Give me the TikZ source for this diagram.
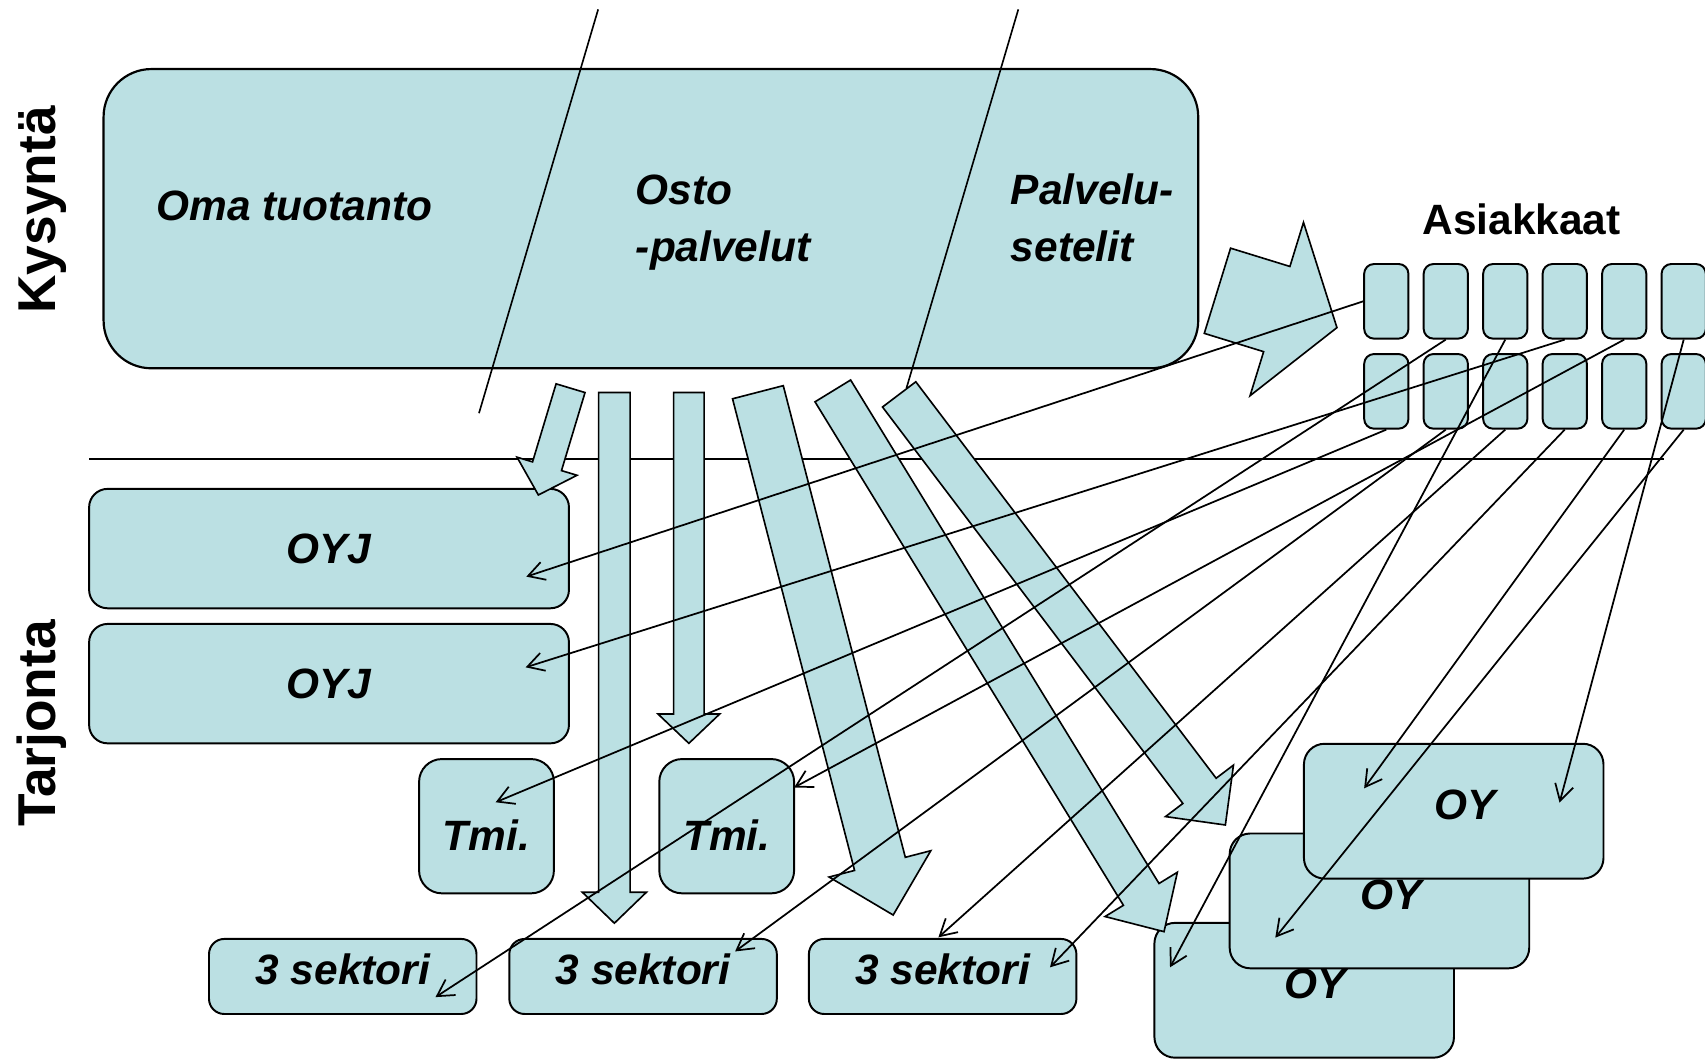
\documentclass[tikz,border=0pt]{standalone}
\usepackage{fontspec}
\setmainfont{Liberation Sans}
\usetikzlibrary{calc,arrows.meta}

\definecolor{paleblue}{RGB}{187,224,227}
\newcommand{\labfont}{\fontsize{39}{47}\selectfont\bfseries\itshape}
\newcommand{\headfont}{\fontsize{39}{47}\selectfont\bfseries}
\newcommand{\sidefont}{\fontsize{49}{59}\selectfont\bfseries}

% fat arrow: tail, tip, shaft half width, head half width, head length
\newcommand{\fatarrow}[5]{%
  \coordinate (fa-b) at ($(#2)!#5!(#1)$);
  \draw[flow] ($(#1)!#3!90:(#2)$) -- ($(fa-b)!#3!90:(#2)$) -- ($(fa-b)!#4!90:(#2)$)
    -- (#2) -- ($(fa-b)!#4!-90:(#2)$) -- ($(fa-b)!#3!-90:(#2)$) -- ($(#1)!#3!-90:(#2)$) -- cycle;
}

\tikzset{
  firm/.style={draw, fill=paleblue, line width=1.8pt, inner sep=0pt, font=\labfont, text height=28pt},
  bigbox/.style={draw, fill=paleblue, line width=2pt, rounded corners=44pt, inner sep=0pt,
    minimum width=1006.7pt, minimum height=275.2pt},
  oyj/.style={firm, rounded corners=17pt, minimum width=441.3pt, minimum height=109.8pt, text depth=0pt},
  tmi/.style={firm, rounded corners=21pt, minimum width=124pt, minimum height=123.5pt, text height=44pt, text depth=0pt},
  sektori/.style={firm, rounded corners=14pt, minimum width=246pt, minimum height=69pt, text depth=13pt},
  oy/.style={firm, rounded corners=19pt, minimum width=275.5pt, minimum height=124pt, text depth=12pt,
    execute at begin node={\hspace*{21pt}}},
  client/.style={draw, fill=paleblue, line width=1.8pt, rounded corners=9pt, inner sep=0pt,
    minimum width=40.7pt, minimum height=68.6pt},
  flow/.style={draw, fill=paleblue, line width=1.5pt, line join=miter},
  link/.style={->, line width=1.6pt},
  divider/.style={line width=1.5pt},
  intext/.style={font=\labfont, inner sep=0pt, anchor=base west},
  side/.style={font=\sidefont, inner sep=0pt, anchor=base, rotate=90},
}

\begin{document}
\begin{tikzpicture}[x=1pt, y=-1pt, >={Straight Barb[length=15pt,width=17pt]}]
    \useasboundingbox (0,0) rectangle (1568,974);

    % demand
    \node[bigbox] (demand) at (598.6,201.1) {};
    \node[intext] (oma) at (143.7,202.5) {Oma tuotanto};
    \node[intext] (osto) at (584.6,188) {Osto};
    \node[intext] (ostob) at (584.6,240.5) {-palvelut};
    \node[intext] (seteli) at (929.5,188) {Palvelu-};
    \node[intext] (setelib) at (929.5,240.5) {setelit};
    \node[side] (kysynta) at (51,193.1) {Kysyntä};
    \node[side] (tarjonta) at (51,665.3) {Tarjonta};
    \node[font=\headfont, inner sep=0pt, anchor=base] (asiakkaat) at (1399.4,216) {Asiakkaat};

    \draw[divider] (550.1,8.6) -- (440.5,380);
    \draw[divider] (936.5,8.6) -- (833.6,357);
    \draw[divider] (82,422) -- (1530,422);

    % supply
    \node[oyj] (oyj1) at (302.6,504.5) {OYJ};
    \node[oyj] (oyj2) at (302.6,628.7) {OYJ};
    \node[tmi] (tmi1) at (447.4,759.8) {Tmi.};
    \node[tmi] (tmi2) at (668.3,759.8) {Tmi.};
    \node[sektori] (sek1) at (315.2,898) {3 sektori};
    \node[sektori] (sek2) at (591.4,898) {3 sektori};
    \node[sektori] (sek3) at (866.9,898) {3 sektori};
    \node[oy] (oy3) at (1199.4,910.7) {OY};
    \node[oy] (oy2) at (1268.6,828.5) {OY};
    \node[oy] (oy1) at (1336.9,746) {OY};

    % customers
    \node[client] (a1) at (1274.9,277.1) {};
    \node[client] (a2) at (1329.6,277.1) {};
    \node[client] (a3) at (1384.3,277.1) {};
    \node[client] (a4) at (1439.0,277.1) {};
    \node[client] (a5) at (1493.7,277.1) {};
    \node[client] (a6) at (1548.4,277.1) {};
    \node[client] (b1) at (1274.9,359.9) {};
    \node[client] (b2) at (1329.6,359.9) {};
    \node[client] (b3) at (1384.3,359.9) {};
    \node[client] (b4) at (1439.0,359.9) {};
    \node[client] (b5) at (1493.7,359.9) {};
    \node[client] (b6) at (1548.4,359.9) {};

    % fat arrows
    \coordinate (f1s) at (524.7,357);   \coordinate (f1t) at (495.1,455.2);
    \coordinate (f2s) at (565,361);     \coordinate (f2t) at (565,849);
    \coordinate (f3s) at (633.5,361);   \coordinate (f3t) at (633.5,683.6);
    \coordinate (f4s) at (697,360.7);   \coordinate (f4t) at (821.4,841.5);
    \coordinate (f5s) at (765.9,359.5); \coordinate (f5t) at (1070.5,856.8);
    \coordinate (f6s) at (826.9,362.7); \coordinate (f6t) at (1126.9,758.7);
    \coordinate (f7s) at (1119.6,267.4); \coordinate (f7t) at (1229.5,301.3);
    \fatarrow{f1s}{f1t}{13.9pt}{28.8pt}{27.6pt}
    \fatarrow{f2s}{f2t}{14.5pt}{29.5pt}{28.5pt}
    \fatarrow{f3s}{f3t}{14pt}{28.4pt}{27pt}
    \fatarrow{f4s}{f4t}{24.1pt}{48.3pt}{48.6pt}
    \fatarrow{f5s}{f5t}{19.2pt}{39pt}{40.2pt}
    \fatarrow{f6s}{f6t}{19.2pt}{39.2pt}{39.4pt}
    \fatarrow{f7s}{f7t}{41pt}{83.4pt}{57.9pt}

    % thin arrows
    \coordinate (t1) at (484,530.3);
    \coordinate (t2) at (483.4,613.7);
    \coordinate (t3) at (455.8,737.8);
    \coordinate (t4) at (730.3,724.2);
    \coordinate (t5) at (400.5,917);
    \coordinate (t6) at (676,875);
    \coordinate (t7) at (863,862);
    \coordinate (t8) at (965.6,889.6);
    \coordinate (t9) at (1076,889.6);
    \coordinate (t10) at (1172.8,862.3);
    \coordinate (t11) at (1254.5,725);
    \coordinate (t12) at (1434.2,738.2);
    \draw[link] (a1.west) -- (t1);
    \draw[link] (a2.south) -- (t5);
    \draw[link] (a3.south) -- (t9);
    \draw[link] (a4.south) -- (t2);
    \draw[link] (a5.south) -- (t4);
    \draw[link] (a6.south) -- (t12);
    \draw[link] (b1.south) -- (t3);
    \draw[link] (b2.south) -- (t6);
    \draw[link] (b3.south) -- (t7);
    \draw[link] (b4.south) -- (t8);
    \draw[link] (b5.south) -- (t11);
    \draw[link] (b6.south) -- (t10);
\end{tikzpicture}
\end{document}
